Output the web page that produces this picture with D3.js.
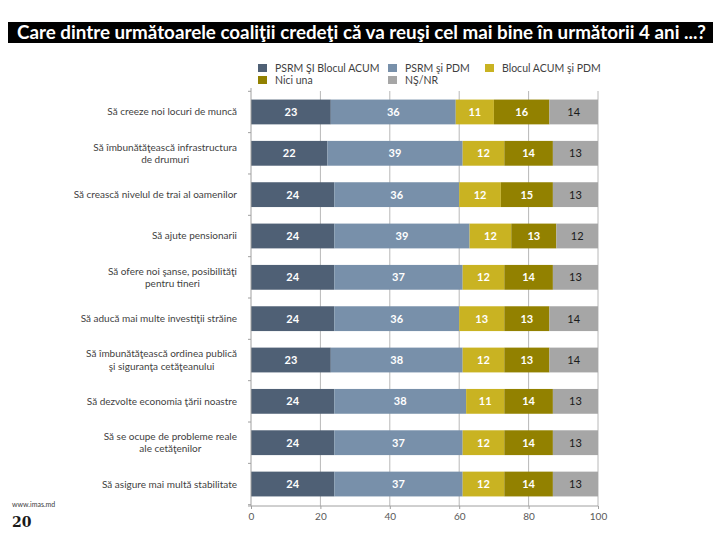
<!DOCTYPE html>
<html>
<head>
<meta charset="utf-8">
<script src="https://cdn.jsdelivr.net/npm/d3@7"></script>
<style>
  html, body { margin: 0; padding: 0; background: #ffffff; }
  svg { display: block; }
</style>
</head>
<body>
<svg id="chart" width="720" height="534"></svg>
<script>
// ---------- data ----------
const titleText = "Care dintre următoarele coaliţii credeţi că va reuşi cel mai bine în următorii 4 ani ...?";
const categories = [
  "Să creeze noi locuri de muncă",
  "Să îmbunătăţească infrastructura\nde drumuri",
  "Să crească nivelul de trai al oamenilor",
  "Să ajute pensionarii",
  "Să ofere noi şanse, posibilităţi\npentru tineri",
  "Să aducă mai multe investiţii străine",
  "Să îmbunătăţească ordinea publică\nşi siguranţa cetăţeanului",
  "Să dezvolte economia ţării noastre",
  "Să se ocupe de probleme reale\nale cetăţenilor",
  "Să asigure mai multă stabilitate"
];
const seriesNames = ["PSRM ŞI Blocul ACUM", "PSRM şi PDM", "Blocul ACUM şi PDM", "Nici una", "NŞ/NR"];
const psrmAcum = [23, 22, 24, 24, 24, 24, 23, 24, 24, 24];
const psrmPdm  = [36, 39, 36, 39, 37, 36, 38, 38, 37, 37];
const acumPdm  = [11, 12, 12, 12, 12, 13, 12, 11, 12, 12];
const niciUna  = [16, 14, 15, 13, 14, 13, 13, 14, 14, 14];
const nsNr     = [14, 13, 13, 12, 13, 14, 14, 13, 13, 13];
const xTicks = [0, 20, 40, 60, 80, 100];
const sourceText = "www.imas.md";
const pageNumber = "20";

// ---------- styles ----------
const colors = ["#4f6075", "#7890aa", "#c9b322", "#928100", "#a6a6a6"];
const labelColors = ["#ffffff", "#ffffff", "#ffffff", "#ffffff", "#1a1a1a"];
const labelWeights = ["bold", "bold", "bold", "bold", "normal"];
const FONT = "Lato, 'Open Sans', 'Liberation Sans', sans-serif";

const svg = d3.select("#chart");

// title bar
svg.append("rect").attr("x", 8).attr("y", 22).attr("width", 705).attr("height", 21).attr("fill", "#000");
svg.append("text")
  .attr("x", 17).attr("y", 39)
  .attr("font-family", FONT).attr("font-weight", "bold").attr("font-size", 19)
  .attr("fill", "#fff")
  .attr("textLength", 689).attr("lengthAdjust", "spacingAndGlyphs")
  .text(titleText);

// scales
const x = d3.scaleLinear().domain([0, 100]).range([251, 598]);
const y = d3.scaleBand().domain(categories).range([91.3, 504.7]).paddingInner(0.4).paddingOuter(0.2);

// stacked data
const seriesValues = [psrmAcum, psrmPdm, acumPdm, niciUna, nsNr];
const table = categories.map((c, i) => {
  const row = { cat: c };
  seriesNames.forEach((s, k) => row[s] = seriesValues[k][i]);
  return row;
});
const stacked = d3.stack().keys(seriesNames)(table);

// gridlines
const g = svg.append("g");
g.selectAll("line.grid").data(xTicks.filter(t => t > 0)).join("line")
  .attr("x1", d => x(d)).attr("x2", d => x(d))
  .attr("y1", 91).attr("y2", 506)
  .attr("stroke", "#b8b8b8").attr("stroke-width", 1);

// bars
stacked.forEach((layer, k) => {
  const lg = g.append("g");
  lg.selectAll("rect").data(layer).join("rect")
    .attr("x", d => x(d[0]))
    .attr("width", d => x(d[1]) - x(d[0]))
    .attr("y", d => y(d.data.cat))
    .attr("height", y.bandwidth())
    .attr("fill", colors[k]);
  lg.selectAll("text").data(layer).join("text")
    .attr("x", d => (x(d[0]) + x(d[1])) / 2)
    .attr("y", d => y(d.data.cat) + y.bandwidth() / 2)
    .attr("dy", "0.36em")
    .attr("text-anchor", "middle")
    .attr("font-family", FONT).attr("font-size", 11)
    .attr("font-weight", labelWeights[k])
    .attr("fill", labelColors[k])
    .text(d => d[1] - d[0]);
});

// y axis line and ticks at band boundaries
const step = y.step();
const y0 = y.range()[0];
g.append("line").attr("x1", 251).attr("x2", 251).attr("y1", 88).attr("y2", 506)
  .attr("stroke", "#a0a0a0");
g.selectAll("line.ytick").data(d3.range(categories.length + 1)).join("line")
  .attr("x1", 248).attr("x2", 251)
  .attr("y1", i => y0 + i * step).attr("y2", i => y0 + i * step)
  .attr("stroke", "#a0a0a0");

// x axis
const xAxis = d3.axisBottom(x).tickValues(xTicks).tickSize(3).tickPadding(4);
const xa = svg.append("g").attr("transform", "translate(0,506)").call(xAxis);
xa.select(".domain").attr("stroke", "#a0a0a0").attr("d", "M248,0H598");
xa.selectAll(".tick line").attr("stroke", "#a0a0a0");
xa.selectAll(".tick text").attr("font-family", FONT).attr("font-size", 10).attr("fill", "#595959");

// category labels (block right-aligned, lines centered)
const catG = svg.append("g");
categories.forEach(c => {
  const lines = c.split("\n");
  const cy = y(c) + y.bandwidth() / 2;
  const lh = 12.5;
  const t = catG.append("text")
    .attr("font-family", FONT).attr("font-size", 10).attr("fill", "#3f3f3f")
    .attr("text-anchor", "middle");
  const spans = lines.map((l, i) => t.append("tspan")
    .attr("y", cy + (i - (lines.length - 1) / 2) * lh)
    .attr("dy", "0.35em")
    .text(l));
  const maxW = d3.max(spans, s => s.node().getComputedTextLength());
  spans.forEach(s => s.attr("x", 237 - maxW / 2));
});

// legend
const legendPos = [[258, 68], [388, 68], [485, 68], [258, 80], [388, 80]];
seriesNames.forEach((s, k) => {
  const [lx, ly] = legendPos[k];
  svg.append("rect").attr("x", lx).attr("y", ly - 4).attr("width", 9).attr("height", 8).attr("fill", colors[k]);
  svg.append("text").attr("x", lx + 17).attr("y", ly).attr("dy", "0.35em")
    .attr("font-family", FONT).attr("font-size", 10.5).attr("fill", "#3f3f3f")
    .text(s);
});

// footer
svg.append("text").attr("x", 12).attr("y", 507)
  .attr("font-family", FONT).attr("font-size", 7).attr("fill", "#404040").text(sourceText);
svg.append("text").attr("x", 12).attr("y", 527)
  .attr("font-family", "'DejaVu Serif', 'Liberation Serif', serif").attr("font-weight", "bold")
  .attr("font-size", 14).attr("fill", "#1a1a1a").text(pageNumber);
</script>
</body>
</html>
